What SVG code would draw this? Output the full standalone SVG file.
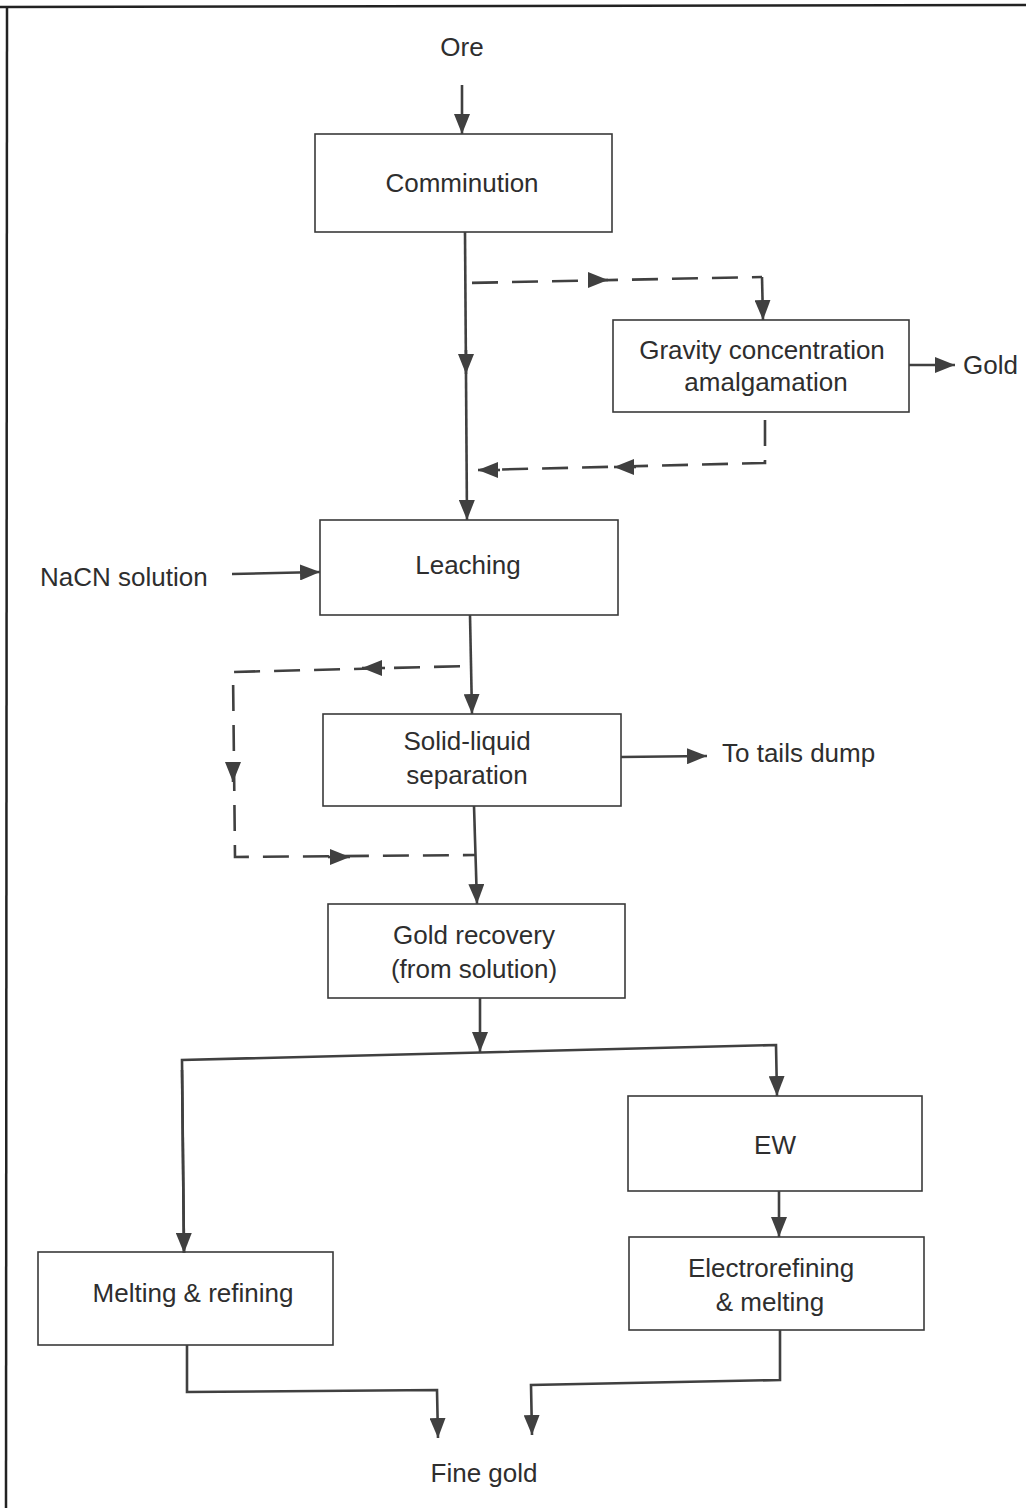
<svg xmlns="http://www.w3.org/2000/svg" width="1026" height="1508" viewBox="0 0 1026 1508">
<style>
.box{fill:none;stroke:#3a3a3a;stroke-width:1.6}
.ln{fill:none;stroke:#404040;stroke-width:2.6}
.ds{fill:none;stroke:#404040;stroke-width:2.6;stroke-dasharray:26 14}
.t{font-family:"Liberation Sans",Arial,sans-serif;font-size:26px;fill:#2e2e2e;text-anchor:middle}
.tl{font-family:"Liberation Sans",Arial,sans-serif;font-size:26px;fill:#2e2e2e}
</style>
<defs>
<marker id="ah" viewBox="0 0 10 10" refX="10" refY="5" markerWidth="7" markerHeight="7" markerUnits="userSpaceOnUse" orient="auto">
<path d="M0,0 L10,5 L0,10 z" fill="#404040"/>
</marker>
<marker id="a" viewBox="0 0 20 16" refX="20" refY="8" markerWidth="20" markerHeight="16" markerUnits="userSpaceOnUse" orient="auto">
<path d="M0,0 L20,8 L0,16 z" fill="#404040"/>
</marker>
</defs>
<rect x="0" y="0" width="1026" height="1508" fill="#ffffff"/>
<g id="frame">
<line x1="0" y1="7" x2="1026" y2="5" stroke="#222" stroke-width="2.5"/>
<line x1="7" y1="6" x2="6" y2="1508" stroke="#222" stroke-width="2.5"/>
</g>

<g id="ore"><text class="t" x="462" y="56">Ore</text></g>
<g id="comminution"><rect class="box" x="315" y="134" width="297" height="98"/><text class="t" x="462" y="192">Comminution</text></g>
<g id="gravity"><rect class="box" x="613" y="320" width="296" height="92"/><text class="t" x="762" y="359">Gravity concentration</text><text class="t" x="766" y="391">amalgamation</text></g>
<g id="gold"><text class="tl" x="963" y="374">Gold</text></g>
<g id="leaching"><rect class="box" x="320" y="520" width="298" height="95"/><text class="t" x="468" y="574">Leaching</text></g>
<g id="nacn"><text class="tl" x="40" y="586">NaCN solution</text></g>
<g id="solidliquid"><rect class="box" x="323" y="714" width="298" height="92"/><text class="t" x="467" y="750">Solid-liquid</text><text class="t" x="467" y="784">separation</text></g>
<g id="tails"><text class="tl" x="722" y="762">To tails dump</text></g>
<g id="goldrecovery"><rect class="box" x="328" y="904" width="297" height="94"/><text class="t" x="474" y="944">Gold recovery</text><text class="t" x="474" y="978">(from solution)</text></g>
<g id="ew"><rect class="box" x="628" y="1096" width="294" height="95"/><text class="t" x="775" y="1154">EW</text></g>
<g id="electrorefining"><rect class="box" x="629" y="1237" width="295" height="93"/><text class="t" x="771" y="1277">Electrorefining</text><text class="t" x="770" y="1311">&amp; melting</text></g>
<g id="melting"><rect class="box" x="38" y="1252" width="295" height="93"/><text class="t" x="193" y="1302">Melting &amp; refining</text></g>
<g id="finegold"><text class="t" x="484" y="1482">Fine gold</text></g>

<g id="connectors">
<!-- Ore to Comminution -->
<path class="ln" d="M462,85 L462,134" marker-end="url(#a)"/>
<!-- Comminution to Leaching -->
<path class="ln" d="M465,232 L467,520" marker-end="url(#a)"/>
<path class="ln" d="M466,350 L466,374" marker-end="url(#a)"/>
<!-- dashed to gravity -->
<path class="ds" d="M466,283 L762,277" stroke-dasharray="26 14" stroke-dashoffset="-6"/>
<path class="ln" d="M590,280 L608,280" marker-end="url(#a)"/>
<path class="ln" d="M762,277 L763,320" marker-end="url(#a)"/>
<!-- gravity to gold -->
<path class="ln" d="M909,365 L955,365" marker-end="url(#a)"/>
<!-- dashed return -->
<path class="ds" d="M765,412 L765,463 L480,470" stroke-dashoffset="-8"/>
<path class="ln" d="M636,467 L614,467" marker-end="url(#a)"/>
<path class="ln" d="M500,470 L478,470" marker-end="url(#a)"/>
<!-- NaCN to Leaching -->
<path class="ln" d="M232,574 L320,572" marker-end="url(#a)"/>
<!-- Leaching to Solid-liquid -->
<path class="ln" d="M470,615 L472,714" marker-end="url(#a)"/>
<!-- dashed loop -->
<path class="ds" d="M470,666 L233,672 L235,857 L475,855" stroke-dashoffset="-10"/>
<path class="ln" d="M385,668 L362,668" marker-end="url(#a)"/>
<path class="ln" d="M233,762 L233,782" marker-end="url(#a)"/>
<path class="ln" d="M328,857 L350,857" marker-end="url(#a)"/>
<!-- Solid-liquid to tails -->
<path class="ln" d="M621,757 L707,756" marker-end="url(#a)"/>
<!-- Solid-liquid to Gold recovery -->
<path class="ln" d="M474,806 L477,904" marker-end="url(#a)"/>
<!-- Gold recovery split -->
<path class="ln" d="M480,998 L480,1052" marker-end="url(#a)"/>
<path class="ln" d="M184,1253 L182,1060 L776,1045 L777,1096" marker-end="url(#a)"/>
<path class="ln" d="M182,1070 L184,1253" marker-end="url(#a)"/>
<!-- EW to Electrorefining -->
<path class="ln" d="M779,1191 L779,1237" marker-end="url(#a)"/>
<!-- to Fine gold -->
<path class="ln" d="M187,1345 L187,1392 L437,1390 L438,1438" marker-end="url(#a)"/>
<path class="ln" d="M780,1330 L780,1380 L531,1385 L532,1435" marker-end="url(#a)"/>
</g>
</svg>
